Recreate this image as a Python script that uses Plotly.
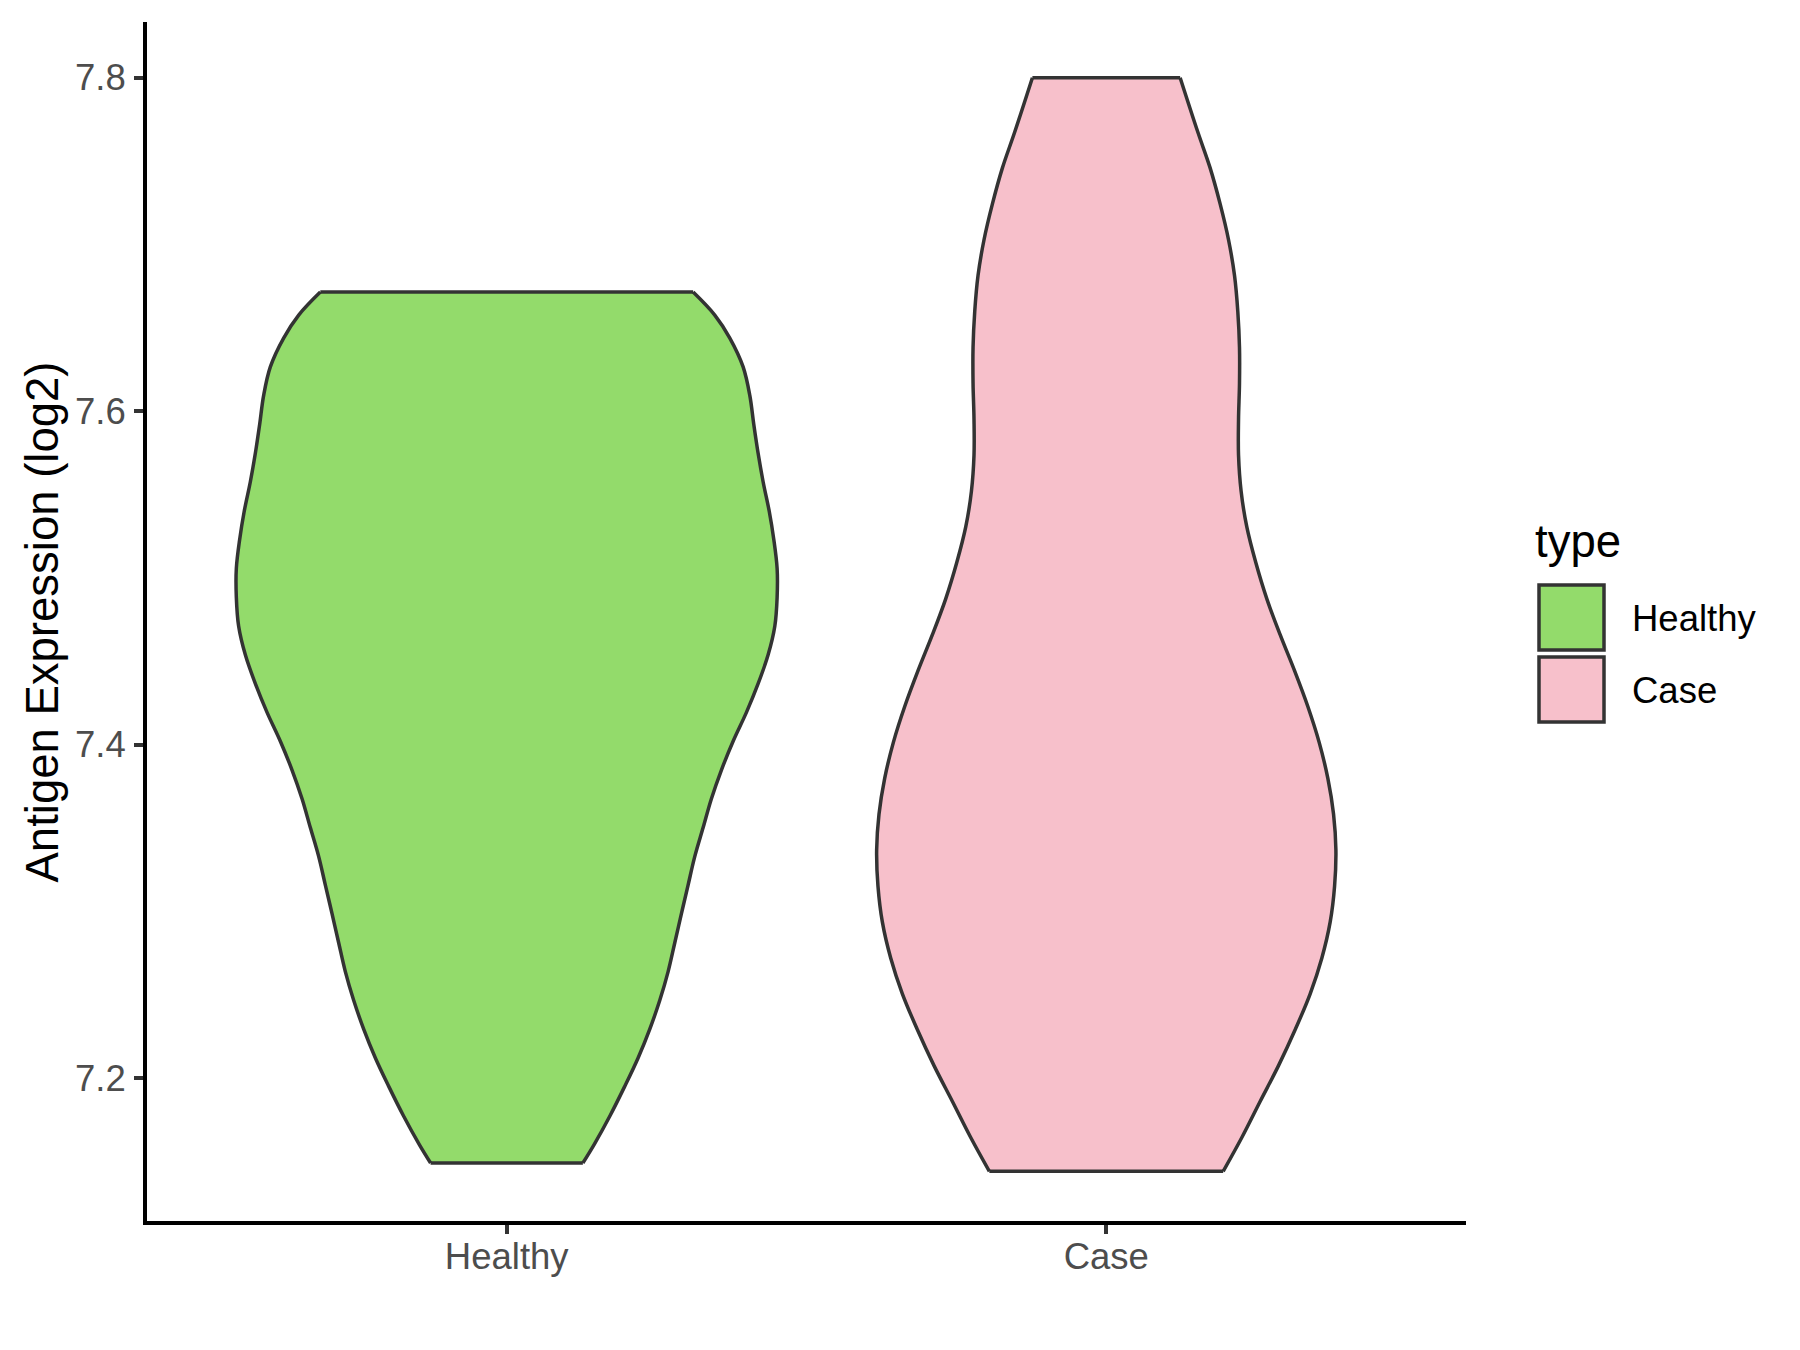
import plotly.graph_objects as go

# ---------------- data ----------------
categories = ["Healthy", "Case"]
fill_colors = ["#93DB6B", "#F7C0CB"]

healthy_y = [7.1490, 7.1602, 7.1775, 7.1948, 7.2120, 7.2293, 7.2466, 7.2638, 7.2811,
             7.2984, 7.3157, 7.3329, 7.3502, 7.3675, 7.3847, 7.4020, 7.4193, 7.4365,
             7.4538, 7.4711, 7.4883, 7.5056, 7.5229, 7.5402, 7.5575, 7.5747, 7.5920,
             7.6093, 7.6265, 7.6438, 7.6576, 7.6714]
healthy_halfwidth = [0.1270, 0.1460, 0.1725, 0.1966, 0.2191, 0.2386, 0.2553, 0.2692, 0.2803,
                     0.2913, 0.3025, 0.3137, 0.3276, 0.3414, 0.3581, 0.3776, 0.3998, 0.4193,
                     0.4360, 0.4472, 0.4510, 0.4510, 0.4455, 0.4377, 0.4277, 0.4193, 0.4121,
                     0.4055, 0.3943, 0.3721, 0.3470, 0.3109]

case_y = [7.1440, 7.1643, 7.1859, 7.2074, 7.2289, 7.2505, 7.2720, 7.2936, 7.3151,
          7.3367, 7.3582, 7.3797, 7.4013, 7.4228, 7.4443, 7.4659, 7.4874, 7.5090,
          7.5305, 7.5520, 7.5736, 7.5951, 7.6167, 7.6382, 7.6597, 7.6813, 7.7028,
          7.7243, 7.7459, 7.7674, 7.8000]
case_halfwidth = [0.1950, 0.2261, 0.2566, 0.2873, 0.3150, 0.3401, 0.3596, 0.3735, 0.3808,
                  0.3830, 0.3791, 0.3696, 0.3551, 0.3362, 0.3140, 0.2900, 0.2678, 0.2495,
                  0.2344, 0.2249, 0.2206, 0.2206, 0.2222, 0.2222, 0.2194, 0.2139, 0.2039,
                  0.1899, 0.1732, 0.1527, 0.1232]

y_tick_values = [7.2, 7.4, 7.6, 7.8]
y_tick_labels = ["7.2", "7.4", "7.6", "7.8"]
y_title = "Antigen Expression (log2)"
legend_title = "type"

groups = [
    (categories[0], healthy_y, healthy_halfwidth, fill_colors[0]),
    (categories[1], case_y, case_halfwidth, fill_colors[1]),
]

# ---------------- layout geometry ----------------
W, H = 1800, 1350
PAGE_OFF = 8  # default body margin of the html page
ML, MR, MT, MB = 139, 342, 14, 137
PW, PH = W - ML - MR, H - MT - MB
FONT = "Liberation Sans, Arial, sans-serif"
OUTLINE = "#333333"


def pxx(page_x):
    return (page_x - PAGE_OFF - ML) / PW


def pxy(page_y):
    return (H - MB - (page_y - PAGE_OFF)) / PH


fig = go.Figure()

for i, (name, ys, ws, color) in enumerate(groups):
    pos = i + 1
    left_x = [pos - w for w in ws]
    right_x = [pos + w for w in ws]
    poly_x = left_x + right_x[::-1] + [left_x[0]]
    poly_y = list(ys) + list(ys)[::-1] + [ys[0]]
    # filled body
    fig.add_trace(go.Scatter(x=poly_x, y=poly_y, mode="lines", fill="toself",
                             fillcolor=color, line=dict(width=0, color=color),
                             name=name, showlegend=False, hoverinfo="skip"))
    # smooth sides
    fig.add_trace(go.Scatter(x=left_x + [None] + right_x, y=list(ys) + [None] + list(ys),
                             mode="lines", line=dict(color=OUTLINE, width=3.5, shape="spline", smoothing=1),
                             connectgaps=False, showlegend=False, hoverinfo="skip"))
    # flat top and bottom (trimmed ends)
    fig.add_trace(go.Scatter(x=[left_x[0], right_x[0], None, left_x[-1], right_x[-1]],
                             y=[ys[0], ys[0], None, ys[-1], ys[-1]],
                             mode="lines", line=dict(color=OUTLINE, width=3.5),
                             connectgaps=False, showlegend=False, hoverinfo="skip"))

tickfont = dict(family=FONT, size=36.5, color="#4D4D4D")

fig.update_xaxes(range=[0.4, 2.6], tickvals=[1, 2], ticktext=categories,
                 showline=True, linecolor="black", linewidth=4, mirror=False,
                 ticks="outside", ticklen=9, tickwidth=4, tickcolor="#333333",
                 tickfont=tickfont, ticklabelstandoff=-9, showgrid=False, zeroline=False)
fig.update_yaxes(range=[7.1142, 7.8334], tickvals=y_tick_values, ticktext=y_tick_labels,
                 showline=True, linecolor="black", linewidth=4,
                 ticks="outside", ticklen=9, tickwidth=4, tickcolor="#333333",
                 tickfont=tickfont, ticklabelstandoff=1, showgrid=False, zeroline=False)

annotations = [
    dict(text=y_title, x=pxx(41.5), y=pxy(622), xref="paper", yref="paper", textangle=-90,
         showarrow=False, xanchor="center", yanchor="middle",
         font=dict(family=FONT, size=45.5, color="black")),
    dict(text=legend_title, x=pxx(1533), y=pxy(541), xref="paper", yref="paper",
         showarrow=False, xanchor="left", yanchor="middle",
         font=dict(family=FONT, size=45.5, color="black")),
]
shapes = []
key_tops = [585, 657]
for j, (name, _, _, color) in enumerate(groups):
    top = key_tops[j]
    shapes.append(dict(type="rect", xref="paper", yref="paper",
                       x0=pxx(1539), x1=pxx(1604), y0=pxy(top), y1=pxy(top + 65),
                       fillcolor=color, line=dict(color=OUTLINE, width=3.5)))
    annotations.append(dict(text=name, x=pxx(1630), y=pxy(top + 33), xref="paper", yref="paper",
                            showarrow=False, xanchor="left", yanchor="middle",
                            font=dict(family=FONT, size=36.5, color="black")))

fig.update_layout(width=W, height=H, autosize=False,
                  margin=dict(l=ML, r=MR, t=MT, b=MB, pad=0),
                  plot_bgcolor="white", paper_bgcolor="white",
                  showlegend=False, annotations=annotations, shapes=shapes)

fig.write_html("out.html")
